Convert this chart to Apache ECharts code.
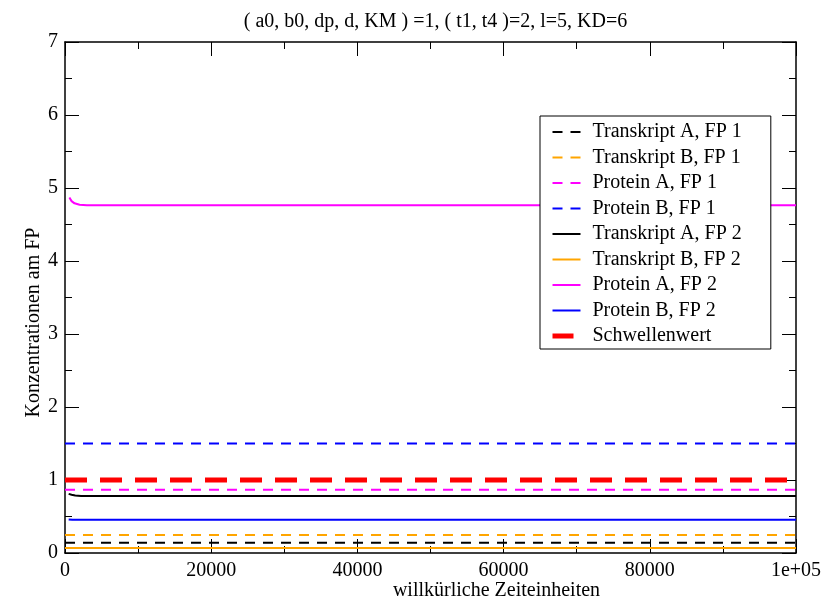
<!DOCTYPE html>
<html>
<head>
<meta charset="utf-8">
<script src="https://cdn.jsdelivr.net/npm/echarts@6/dist/echarts.min.js"></script>
<style>html,body{margin:0;padding:0;background:#fff}#c{width:832px;height:600px}</style>
</head>
<body>
<div id="c"></div>
<script>
var titleText = '( a0, b0, dp, d, KM ) =1, ( t1, t4 )=2, l=5, KD=6';
var xName = 'willkürliche Zeiteinheiten';
var yName = 'Konzentrationen am FP';
var seriesNames = ['Transkript A, FP 1','Transkript B, FP 1','Protein A, FP 1','Protein B, FP 1',
  'Transkript A, FP 2','Transkript B, FP 2','Protein A, FP 2','Protein B, FP 2','Schwellenwert'];
var xMax = 100000;
var xMaxLabel = '1e+05';
// series values: [time, concentration]
var transkriptA_FP1 = [[0, 0.14], [100000, 0.14]];
var transkriptB_FP1 = [[0, 0.245], [100000, 0.245]];
var proteinA_FP1 = [[0, 0.865], [100000, 0.865]];
var proteinB_FP1 = [[0, 1.5], [100000, 1.5]];
var transkriptA_FP2 = [[500, 0.81], [900, 0.797], [1400, 0.787], [2200, 0.782], [100000, 0.782]];
var transkriptB_FP2 = [[0, 0.068], [100000, 0.068]];
var proteinA_FP2 = [[600, 4.87], [900, 4.82], [1300, 4.79], [2000, 4.77], [3000, 4.765], [100000, 4.765]];
var proteinB_FP2 = [[500, 0.46], [1000, 0.455], [100000, 0.455]];
var schwellenwert = [[0, 1.0], [100000, 1.0]];

var FONT = "'Liberation Serif', 'Times New Roman', serif";
var colors = ['#000000','#FFA500','#FF00FF','#0000FF','#000000','#FFA500','#FF00FF','#0000FF','#FF0000'];
var datas = [transkriptA_FP1, transkriptB_FP1, proteinA_FP1, proteinB_FP1,
  transkriptA_FP2, transkriptB_FP2, proteinA_FP2, proteinB_FP2, schwellenwert];
var dashed = [true,true,true,true,false,false,false,false,true];

var series = seriesNames.map(function (n, i) {
  var isRed = i === 8;
  return {
    name: n, type: 'line', data: datas[i], showSymbol: false, symbol: 'none',
    xAxisIndex: 0, yAxisIndex: 0, animation: false, silent: true,
    lineStyle: {
      color: colors[i], width: isRed ? 5 : 2,
      type: dashed[i] ? (isRed ? [22, 13] : [10, 8]) : 'solid'
    },
    itemStyle: { color: colors[i] }
  };
});

var legendData = seriesNames.map(function (n, i) {
  var item = { name: n };
  if (i === 8) item.lineStyle = { width: 5, type: [21, 20] };
  return item;
});

function axisCommon(extra) {
  var base = {
    type: 'value',
    axisLine: { show: true, onZero: false, lineStyle: { color: '#000', width: 1.5 } },
    axisTick: { show: true, inside: true, length: 14, lineStyle: { color: '#000', width: 1 } },
    minorTick: { show: true, splitNumber: 2, length: 7, lineStyle: { color: '#000', width: 1 } },
    splitLine: { show: false },
    minorSplitLine: { show: false }
  };
  for (var k in extra) base[k] = extra[k];
  return base;
}

var chart = echarts.init(document.getElementById('c'), null, { renderer: 'canvas' });
chart.setOption({
  backgroundColor: '#ffffff',
  animation: false,
  textStyle: { fontFamily: FONT },
  title: {
    text: titleText, left: 430.5, top: 7, textAlign: 'center',
    textStyle: { fontFamily: FONT, fontSize: 20, fontWeight: 'normal', color: '#000' }
  },
  grid: { left: 65, right: 36, top: 42, bottom: 47, containLabel: false, outerBoundsMode: 'none' },
  legend: {
    orient: 'vertical', left: 540, top: 116,
    data: legendData,
    backgroundColor: '#fff', borderColor: '#000', borderWidth: 1, borderRadius: 0,
    padding: [6, 29, 3, 10],
    itemWidth: 28, itemHeight: 14, itemGap: 5.5,
    selectedMode: false,
    itemStyle: { opacity: 0, borderWidth: 0 },
    textStyle: { fontFamily: FONT, fontSize: 20, color: '#000', lineHeight: 20, padding: [0, 0, 0, 7] }
  },
  xAxis: [
    axisCommon({
      position: 'bottom', min: 0, max: xMax, interval: 20000,
      name: xName, nameLocation: 'middle', nameGap: 28, nameMoveOverlap: false,
      nameTextStyle: { fontFamily: FONT, fontSize: 20, color: '#000', padding: [0, 0, 0, 132] },
      axisLabel: { show: true, fontFamily: FONT, fontSize: 20, color: '#000', margin: 8,
        showMinLabel: true, showMaxLabel: true,
        formatter: function (v) { return v === xMax ? xMaxLabel : String(v); } }
    }),
    axisCommon({
      position: 'top', min: 0, max: xMax, interval: 20000,
      axisLabel: { show: false }
    })
  ],
  yAxis: [
    axisCommon({
      position: 'left', min: 0, max: 7, interval: 1,
      name: yName, nameLocation: 'middle', nameGap: 21, nameRotate: 90, nameMoveOverlap: false,
      nameTextStyle: { fontFamily: FONT, fontSize: 20, color: '#000', padding: [0, 50, 0, 0] },
      axisLabel: { show: true, fontFamily: FONT, fontSize: 20, color: '#000', margin: 7,
        showMinLabel: true, showMaxLabel: true }
    }),
    axisCommon({
      position: 'right', min: 0, max: 7, interval: 1,
      axisLabel: { show: false }
    })
  ],
  series: series
});
</script>
</body>
</html>
